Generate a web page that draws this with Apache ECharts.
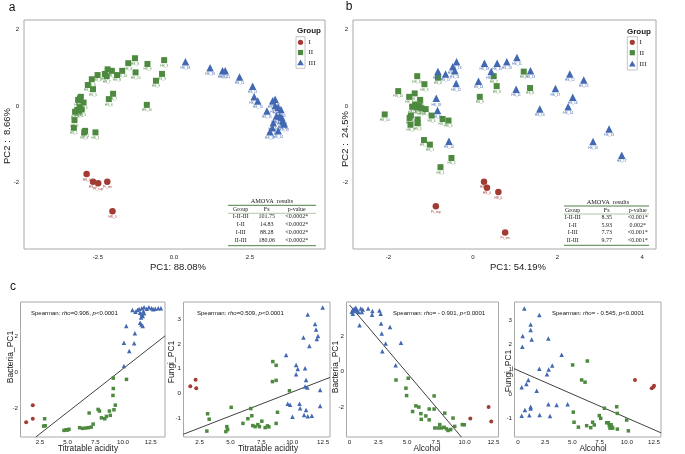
<!DOCTYPE html>
<html><head><meta charset="utf-8">
<script src="https://cdn.jsdelivr.net/npm/echarts@6/dist/echarts.min.js"></script>
<style>html,body{margin:0;padding:0;background:#fff}#c{width:685px;height:454px}</style>
</head><body><div id="c"></div>
<script>
const groupNames = ['I','II','III'];
const groupColors = ['#A23B33','#4D8A3F','#4268B2'];
const groupSymbols = ['circle','rect','triangle'];

// ---- Panel a: bacteria PCA (PC1 88.08%, PC2 8.66%)
const aI = [[-2.87,-1.78,'HS_0'],[-2.66,-1.98,'HS_0'],[-2.49,-2.02,'Pr_sup'],[-2.19,-1.98,'Pr_sm'],[-2.02,-2.75,'HS_0']];
const aII = [[-1.28,1.25,'HS_8'],[-0.87,1.10,'HS_9'],[-0.32,1.20,'HS_9'],[-1.50,1.12,'HS_8'],[-2.18,0.96,'HS_7'],[-2.04,0.92,'HS_6'],[-1.70,0.92,'HS_10'],[-1.87,0.81,'HS_8'],[-1.26,0.88,'HS_10'],[-0.39,0.84,'HS_9'],[-2.27,0.84,'HS_7'],[-2.21,0.78,'HS_7'],[-2.51,0.81,'HS_6'],[-0.59,0.66,'HS_9'],[-2.70,0.70,'HS_6'],[-2.83,0.55,'HS_5'],[-2.66,0.44,'HS_5'],[-2.00,0.32,'HS_7'],[-3.09,0.20,'HS_4'],[-3.06,0.24,'HS_4'],[-3.15,0.16,'HS_5'],[-2.97,0.09,'HS_3'],[-3.10,-0.03,'HS_2'],[-2.14,0.18,'HS_6'],[-0.89,0.03,'HS_10'],[-3.18,-0.10,'HS_3'],[-3.25,-0.15,'HS_2'],[-3.12,-0.12,'HS_4'],[-3.03,-0.09,'HS_3'],[-3.27,-0.37,'HS_2'],[-3.29,-0.57,'HS_1'],[-2.95,-0.69,'HS_1'],[-2.92,-0.65,'HS_1'],[-2.58,-0.69,'HS_1']];
const aIII = [[0.38,1.16,'HS_18'],[1.19,1.00,'HS_18'],[1.60,0.92,'HS_11'],[1.69,0.92,'HS_11'],[2.16,0.76,'HS_11'],[2.59,0.52,'HS_11'],[2.64,0.24,'HS_12'],[2.76,0.13,'HS_13'],[3.33,0.18,'HS_12'],[3.25,0.14,'HS_15'],[3.33,0.01,'HS_12'],[3.43,-0.03,'HS_13'],[3.52,-0.09,'HS_15'],[3.37,-0.26,'HS_17'],[3.48,-0.27,'HS_16'],[3.55,-0.30,'HS_13'],[3.58,-0.38,'HS_17'],[3.62,-0.47,'HS_14'],[3.27,-0.44,'HS_16'],[3.16,-0.67,'HS_18'],[3.43,-0.65,'HS_14'],[3.60,-0.41,'HS_16'],[3.24,-0.57,'HS_14'],[3.06,-0.13,'HS_15']];

// ---- Panel b: fungi PCA (PC1 54.19%, PC2 24.5%)
const bI = [[0.26,-1.98,'HS_0'],[0.33,-2.14,'HS_0'],[0.60,-2.25,'HS_0'],[-0.88,-2.62,'Pr_sup'],[0.76,-3.31,'Pr_sm']];
const bII = [[-1.32,0.78,'HS_10'],[-0.83,0.74,'HS_6'],[-1.15,0.57,'HS_9'],[-1.77,0.39,'HS_10'],[-1.38,0.33,'HS_6'],[-1.51,0.24,'HS_7'],[-1.25,0.16,'HS_5'],[-1.37,0.04,'HS_7'],[-1.44,-0.02,'HS_3'],[-1.32,-0.03,'HS_2'],[-1.22,-0.06,'HS_7'],[-1.12,-0.08,'HS_4'],[-1.27,0.00,'HS_8'],[-2.09,-0.22,'HS_10'],[-1.47,-0.25,'HS_3'],[-1.50,-0.31,'HS_2'],[-1.31,-0.35,'HS_4'],[-0.98,-0.25,'HS_6'],[-0.72,-0.34,'HS_8'],[-0.58,-0.38,'HS_5'],[-1.48,-0.49,'HS_1'],[-1.31,-0.45,'HS_5'],[0.49,0.78,'HS_7'],[0.56,0.52,'HS_8'],[0.16,0.24,'HS_9'],[1.20,0.90,'HS_9'],[1.35,0.47,'HS_8'],[-1.16,-0.89,'HS_3'],[-1.02,-1.01,'HS_1'],[-0.51,-1.36,'HS_2'],[-0.77,-1.60,'HS_1']];
const bIII = [[-0.39,1.16,'HS_18'],[-0.48,1.03,'HS_15'],[-0.43,0.92,'HS_11'],[-0.83,0.90,'HS_12'],[-0.65,0.84,'HS_17'],[-0.40,0.59,'HS_12'],[-0.87,0.20,'HS_18'],[-0.84,-0.12,'HS_16'],[0.27,1.12,'HS_18'],[0.57,1.12,'HS_15'],[0.80,1.16,'HS_13'],[1.04,1.27,'HS_11'],[1.36,0.92,'HS_13'],[0.43,0.90,'HS_14'],[0.13,0.65,'HS_14'],[1.02,0.44,'HS_11'],[2.29,0.84,'HS_12'],[2.62,0.68,'HS_15'],[1.95,0.46,'HS_17'],[2.36,0.23,'HS_16'],[2.25,-0.02,'HS_14'],[1.58,-0.08,'HS_16'],[-0.57,-0.92,'HS_14'],[3.22,-0.60,'HS_13'],[2.84,-0.93,'HS_16'],[3.52,-1.29,'HS_17']];

const amovaHeader = ['Group','Fs','p-value'];
const amovaA = [['I-II-III','101.75','<0.0002*'],['I-II','14.83','<0.0002*'],['I-III','88.28','<0.0002*'],['II-III','180.06','<0.0002*']];
const amovaB = [['I-II-III','8.35','<0.001*'],['I-II','5.93','0.002*'],['I-III','7.73','<0.001*'],['II-III','9.77','<0.001*']];

// ---- Panel c1: Bacteria_PC1 vs titratable acidity
const c1I = [[1.25,-2.79],[1.85,-1.84],[1.85,-2.59]];
const c1II = [[2.92,-2.59],[2.97,-2.98],[2.83,-3.00],[4.67,-3.24],[4.85,-3.21],[4.98,-3.22],[5.12,-3.18],[6.08,-3.09],[6.35,-3.13],[6.62,-3.11],[6.86,-3.09],[7.12,-3.06],[7.30,-2.89],[6.94,-2.27],[7.75,-2.07],[7.87,-2.16],[8.05,-2.54],[8.35,-2.59],[8.50,-2.46],[8.77,-2.16],[8.85,-2.40],[9.18,-2.09],[9.30,-1.83],[9.09,-1.29],[9.12,-0.90],[9.12,-0.32],[10.31,-0.39]];
const c1III = [[10.08,0.35],[10.08,1.65],[10.29,2.59],[10.56,1.19],[11.00,1.62],[11.07,2.18],[11.54,2.77],[11.66,2.68],[11.78,2.59],[10.85,3.48],[11.12,3.39],[11.30,3.48],[11.45,3.54],[11.69,3.58],[11.90,3.63],[12.14,3.55],[12.34,3.63],[12.58,3.58],[12.73,3.52],[12.91,3.55],[13.18,3.58],[13.42,3.58],[11.54,3.33],[11.69,3.24],[11.78,3.15],[11.90,3.30],[11.63,3.07],[11.84,3.42]];
const c1Fit = [[2.12,-3.61],[13.8,2.04]];

// ---- Panel c2: Fungi_PC1 vs titratable acidity
const c2I = [[2.18,0.56],[1.75,0.29],[2.23,0.21]];
const c2II = [[3.15,-0.82],[3.28,-1.04],[3.09,-1.52],[5.06,-0.56],[4.71,-1.34],[4.77,-1.46],[4.63,-1.54],[6.01,-1.21],[6.41,-1.02],[6.65,-0.61],[6.73,-0.90],[6.81,-1.30],[7.00,-1.34],[7.22,-1.26],[7.35,-1.34],[7.54,-1.12],[7.81,-1.38],[8.00,-1.31],[8.11,-1.35],[8.43,1.29],[8.70,1.14],[8.40,0.48],[8.70,0.53],[8.81,-0.76],[8.70,-1.21],[9.78,0.11]];
const c2III = [[12.47,3.48],[11.26,3.19],[11.85,2.81],[11.93,2.59],[12.09,2.32],[11.99,2.20],[10.91,2.26],[11.39,1.92],[9.51,1.56],[10.32,1.15],[10.45,0.99],[11.04,1.02],[10.32,0.78],[11.12,0.55],[11.04,0.28],[11.23,0.24],[12.26,0.14],[9.64,-0.42],[9.83,-0.46],[10.59,-0.42],[10.64,-0.60],[10.02,-0.94],[11.12,-0.67],[10.96,-0.87],[11.26,-0.92],[11.59,-0.90],[12.26,-0.51]];
const c2Fit = [[1.18,-1.65],[13.06,0.65]];

// ---- Panel c3: Bacteria_PC1 vs alcohol
const c3I = [[10.49,-2.64],[12.08,-2.00],[12.31,-2.82]];
const c3II = [[4.04,-0.47],[5.10,-0.37],[4.90,-0.93],[4.96,-1.35],[5.76,-1.93],[6.02,-2.00],[5.48,-2.25],[6.20,-2.37],[6.92,-2.11],[7.35,-1.37],[7.35,-2.11],[6.63,-2.50],[6.92,-2.72],[6.23,-2.69],[7.84,-2.99],[7.41,-3.18],[7.70,-3.18],[7.98,-3.18],[8.22,-3.14],[8.42,-3.23],[8.56,-3.32],[8.79,-3.27],[9.14,-3.09],[8.99,-2.62],[8.27,-2.34],[9.80,-2.99],[9.97,-3.00]];
const c3III = [[0.29,3.50],[0.40,3.56],[0.49,3.43],[0.64,3.50],[0.29,3.28],[0.78,3.37],[0.98,3.57],[1.15,3.52],[1.07,3.37],[1.62,3.57],[1.99,3.43],[1.96,3.22],[2.60,3.46],[2.71,3.28],[0.87,2.62],[2.74,2.72],[2.80,2.16],[3.52,2.53],[3.14,1.60],[2.85,1.16],[4.47,1.64],[4.01,0.36],[0.20,3.39],[0.55,3.61]];
const c3Fit = [[0.0,3.77],[9.72,-3.69]];

// ---- Panel c4: Fungi_PC1 vs alcohol
const c4I = [[10.75,0.57],[12.29,0.23],[12.44,0.28],[12.50,0.33]];
const c4II = [[5.02,1.18],[6.37,1.34],[5.85,0.57],[6.16,0.48],[5.08,-0.74],[5.15,-1.15],[5.55,-1.35],[6.31,-1.29],[6.68,-1.37],[6.86,-1.15],[7.01,-1.26],[7.47,-0.88],[7.60,-0.99],[7.94,-0.58],[8.15,-1.17],[8.30,-1.17],[8.39,-1.28],[8.55,-1.25],[8.61,-1.33],[8.70,-1.39],[8.45,-1.39],[9.07,-0.52],[9.13,-0.79],[9.13,-1.43],[9.99,-1.06],[10.14,-1.50]];
const c4III = [[0.58,3.48],[1.96,3.21],[1.16,2.83],[1.16,2.60],[0.43,2.36],[1.26,2.22],[0.40,1.92],[2.79,2.26],[4.01,1.59],[1.96,1.03],[2.82,1.00],[3.15,1.16],[2.66,0.80],[0.95,0.57],[0.77,0.41],[0.34,0.27],[1.72,0.13],[0.64,-0.65],[0.34,-0.89],[1.04,-0.87],[1.16,-0.52],[1.16,-0.59],[1.99,-0.86],[2.79,-0.42],[2.94,-0.90],[3.55,-0.45],[4.56,-0.42]];
const c4Fit = [[-0.37,1.03],[13.14,-1.58]];

const spearman = [['0.906'],['0.509'],[' - 0.901'],[' - 0.545']];

// ----------------------------------------------------------------
const FONT = 'Liberation Sans, Arial, Helvetica, sans-serif';
const SERIF = 'Liberation Serif, Times New Roman, serif';
const chart = echarts.init(document.getElementById('c'), null, {renderer:'canvas'});

const grids = [
  {left:24, top:20, width:301, height:229},
  {left:353, top:20, width:303, height:229},
  {left:20.5, top:302, width:144.5, height:135},
  {left:183.5, top:302, width:146.5, height:135},
  {left:346.5, top:302, width:152, height:135},
  {left:514.5, top:302, width:146.5, height:135}
].map(g => Object.assign(g, {show:true, borderColor:'#a8a8a8', borderWidth:1, backgroundColor:'transparent', containLabel:false}));

function ax(gi, min, max, vals, fmt, margin, fs) {
  return {type:'value', gridIndex:gi, min, max, scale:true,
    axisLine:{show:false}, axisTick:{show:false}, splitLine:{show:false},
    axisLabel:{customValues:vals, formatter:fmt, fontSize:fs, color:'#222', fontFamily:FONT, margin}};
}
const f1 = v => v.toFixed(1);
const f1z = v => v === 0 ? '0' : v.toFixed(1);
const f0 = v => String(v);

const xAxes = [
  ax(0, -4.93, 4.97, [-2.5,0,2.5], f1, 5, 6),
  ax(1, -2.84, 4.33, [-2,0,2,4], f0, 5, 6),
  ax(2, 0.74, 13.79, [2.5,5,7.5,10,12.5], f1, 2.5, 6.2),
  ax(3, 1.2, 13.06, [2.5,5,7.5,10,12.5], f1, 2.5, 6.2),
  ax(4, -0.26, 12.94, [0,2.5,5,7.5,10,12.5], f1z, 2.5, 6.2),
  ax(5, -0.32, 13.14, [0,2.5,5,7.5,10,12.5], f1z, 2.5, 6.2)
];
const yAxes = [
  ax(0, -3.74, 2.25, [-2,0,2], f0, 5, 6),
  ax(1, -3.74, 2.25, [-2,0,2], f0, 5, 6),
  ax(2, -3.61, 3.93, [-2,0,2], f0, 2.5, 6.2),
  ax(3, -1.76, 3.70, [-1,0,1,2,3], f0, 2.5, 6.2),
  ax(4, -3.69, 3.94, [-2,0,2], f0, 2.5, 6.2),
  ax(5, -1.75, 3.74, [-1,0,1,2,3], f0, 2.5, 6.2)
];

const bigSize = [6.5, 6, 7.5];
const smallSize = [4, 3.5, 4.5];
function pts(gi, data, g, size, withLabel) {
  return {type:'scatter', name:groupNames[g], xAxisIndex:gi, yAxisIndex:gi, data,
    symbol:groupSymbols[g], symbolSize:size[g], encode:{x:0, y:1},
    itemStyle:{color:groupColors[g], opacity:1}, silent:true, z:3,
    label: withLabel ? {show:true, formatter:p => p.value[2], fontSize:3.2, color:groupColors[g], position:'bottom', distance:1, fontFamily:FONT} : {show:false}};
}
function fit(gi, data) {
  return {type:'line', xAxisIndex:gi, yAxisIndex:gi, data, symbol:'none', showSymbol:false, clip:true, silent:true, z:2,
    lineStyle:{color:'#2a2a2a', width:0.9}};
}

const series = [
  pts(0,aI,0,bigSize,true), pts(0,aII,1,bigSize,true), pts(0,aIII,2,bigSize,true),
  pts(1,bI,0,bigSize,true), pts(1,bII,1,bigSize,true), pts(1,bIII,2,bigSize,true),
  fit(2,c1Fit), pts(2,c1I,0,smallSize,false), pts(2,c1II,1,smallSize,false), pts(2,c1III,2,smallSize,false),
  fit(3,c2Fit), pts(3,c2I,0,smallSize,false), pts(3,c2II,1,smallSize,false), pts(3,c2III,2,smallSize,false),
  fit(4,c3Fit), pts(4,c3I,0,smallSize,false), pts(4,c3II,1,smallSize,false), pts(4,c3III,2,smallSize,false),
  fit(5,c4Fit), pts(5,c4I,0,smallSize,false), pts(5,c4II,1,smallSize,false), pts(5,c4III,2,smallSize,false)
];

// ---- graphic elements: panel letters, axis names, legends, tables, annotations
const G = [];
function txt(x, y, text, opt) {
  G.push({type:'text', x, y, rotation:(opt && opt.rot) || 0, silent:true,
    style:Object.assign({text, fill:'#1a1a1a', fontSize:8, fontFamily:FONT, textAlign:'center', textVerticalAlign:'middle'}, opt && opt.style)});
}
txt(12, 8, 'a', {style:{fontSize:12, fill:'#111'}});
txt(349, 7, 'b', {style:{fontSize:12, fill:'#111'}});
txt(13, 287, 'c', {style:{fontSize:12, fill:'#111'}});

txt(178, 267, 'PC1: 88.08%', {style:{fontSize:9.5}});
txt(518, 267, 'PC1: 54.19%', {style:{fontSize:9.5}});
txt(7, 136, 'PC2 :  8.66%', {rot:Math.PI/2, style:{fontSize:9.5}});
txt(345, 139, 'PC2 :  24.5%', {rot:Math.PI/2, style:{fontSize:9.5}});

txt(88, 449, 'Titratable acidity', {style:{fontSize:8.3}});
txt(268, 449, 'Titratable acidity', {style:{fontSize:8.3}});
txt(427, 449, 'Alcohol', {style:{fontSize:8.3}});
txt(593, 449, 'Alcohol', {style:{fontSize:8.3}});
txt(10.5, 357, 'Bacteria_PC1', {rot:Math.PI/2, style:{fontSize:8.5}});
txt(172, 362, 'Fungi_PC1', {rot:Math.PI/2, style:{fontSize:8.5}});
txt(336, 367, 'Bacteria_PC1', {rot:Math.PI/2, style:{fontSize:8.5}});
txt(508.5, 371, 'Fungi_PC1', {rot:Math.PI/2, style:{fontSize:8.5}});

// Spearman annotations
const spX = [31, 197, 393, 552];
spX.forEach((x, i) => {
  G.push({type:'text', x, y:313, silent:true, style:{
    text:'{n|Spearman: }{i|rho}{n|=' + spearman[i][0] + ', }{i|p}{n|<0.0001}',
    textVerticalAlign:'middle', textAlign:'left',
    rich:{n:{fontSize:6, fontFamily:FONT, fill:'#111'}, i:{fontSize:6, fontFamily:FONT, fontStyle:'italic', fill:'#111'}}}});
});

// Legends
function legend(bx, by, bw, bh, sx, ys, lx, gx, gy) {
  txt(gx, gy, 'Group', {style:{fontSize:8, fontWeight:'bold', textAlign:'left'}});
  G.push({type:'rect', shape:{x:bx, y:by, width:bw, height:bh}, silent:true, style:{fill:'#fff', stroke:'#b5b5b5', lineWidth:0.8}});
  G.push({type:'circle', shape:{cx:sx, cy:ys[0], r:2.6}, silent:true, style:{fill:groupColors[0]}});
  G.push({type:'rect', shape:{x:sx-2.6, y:ys[1]-2.6, width:5.2, height:5.2}, silent:true, style:{fill:groupColors[1]}});
  G.push({type:'polygon', shape:{points:[[sx, ys[2]-3.2],[sx-3.3, ys[2]+2.4],[sx+3.3, ys[2]+2.4]]}, silent:true, style:{fill:groupColors[2]}});
  groupNames.forEach((n, i) => txt(lx, ys[i], n, {style:{fontSize:7, textAlign:'left', fontFamily:SERIF}}));
}
legend(296, 36.7, 9, 31.6, 300.5, [42.3, 52.5, 62.8], 308.5, 297, 31);
legend(627.3, 36.7, 10, 33.3, 632.3, [42.3, 52.7, 64], 639.5, 627, 31.7);

// AMOVA tables
function table(x0, x1, titleX, titleY, topY, headY, headLineY, rowYs, botY, colX, rows) {
  txt(titleX, titleY, 'AMOVA  results', {style:{fontSize:6.3, fontFamily:SERIF}});
  G.push({type:'line', shape:{x1:x0, y1:topY, x2:x1, y2:topY}, silent:true, style:{stroke:'#4f8046', lineWidth:1}});
  amovaHeader.forEach((h, j) => txt(colX[j], headY, h, {style:{fontSize:6, fontFamily:SERIF}}));
  G.push({type:'line', shape:{x1:x0, y1:headLineY, x2:x1, y2:headLineY}, silent:true, style:{stroke:'#7aa072', lineWidth:0.6}});
  rows.forEach((r, i) => r.forEach((c, j) => txt(colX[j], rowYs[i], c, {style:{fontSize:6, fontFamily:SERIF}})));
  G.push({type:'line', shape:{x1:x0, y1:botY, x2:x1, y2:botY}, silent:true, style:{stroke:'#4f8046', lineWidth:1}});
}
table(228, 316, 272, 201, 205.3, 209.7, 213.3, [216.9, 224.6, 232.3, 240], 245.7, [240.7, 266.7, 296.7], amovaA);
table(564, 649, 608, 202, 206, 210.7, 214, [217.8, 225.3, 232.8, 240.3], 245.3, [572.7, 606.7, 637.7], amovaB);

chart.setOption({
  animation:false,
  backgroundColor:'#fff',
  grid:grids, xAxis:xAxes, yAxis:yAxes, series, graphic:G
});
</script>
</body></html>
